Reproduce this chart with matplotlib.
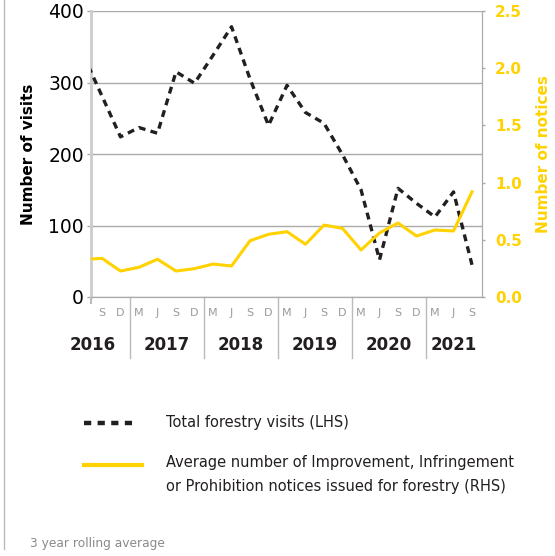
import numpy as np
import matplotlib
matplotlib.use('Agg')
import matplotlib.pyplot as plt
from matplotlib.lines import Line2D
from matplotlib.transforms import blended_transform_factory

# quarterly points, first one (J 2016) sits just left of the plot edge
quarters = ['J', 'S', 'D',
            'M', 'J', 'S', 'D',
            'M', 'J', 'S', 'D',
            'M', 'J', 'S', 'D',
            'M', 'J', 'S', 'D',
            'M', 'J', 'S']
years = [2016, 2016, 2016,
         2017, 2017, 2017, 2017,
         2018, 2018, 2018, 2018,
         2019, 2019, 2019, 2019,
         2020, 2020, 2020, 2020,
         2021, 2021, 2021]
visits = [338, 281, 224, 237, 229, 315, 299, 338, 378, 305, 240,
          296, 258, 243, 199, 150, 52, 152, 131, 112, 147, 45]
notices = [0.328, 0.338, 0.227, 0.26, 0.33, 0.227, 0.248, 0.288, 0.271, 0.492, 0.548,
           0.571, 0.461, 0.629, 0.6, 0.411, 0.56, 0.647, 0.533, 0.586, 0.577, 0.92]

yellow = '#FFD200'
dark = '#231F20'
grid_grey = '#AAAAAA'

plt.rcParams['font.family'] = 'DejaVu Sans'
plt.rcParams['lines.scale_dashes'] = False

fig = plt.figure(figsize=(5.55, 5.56), dpi=100)
W, H = 555, 556
ax = fig.add_axes([91 / W, 259 / H, 391 / W, 286 / H])
ax2 = ax.twinx()

x = np.arange(len(quarters))

ax.plot(x, visits, color=dark, lw=2.4, dashes=(5, 3.8), zorder=3)
ax2.plot(x, notices, color=yellow, lw=2.2, zorder=2)

ax.set_xlim(0.405, 21.54)
ax.set_ylim(0, 400)
ax2.set_ylim(0, 2.5)

# left axis
ax.set_yticks([0, 100, 200, 300, 400])
ax.tick_params(axis='y', labelsize=13.5, colors=grid_grey, labelcolor='black',
               length=3, width=1, pad=2)
ax.yaxis.grid(True, color=grid_grey, lw=1)
ax.set_axisbelow(True)
ax.set_ylabel('Number of visits', fontsize=11, fontweight='bold', labelpad=9)

# right axis
ax2.set_yticks([0, 0.5, 1.0, 1.5, 2.0, 2.5])
ax2.set_yticklabels(['0.0', '0.5', '1.0', '1.5', '2.0', '2.5'])
ax2.tick_params(axis='y', labelsize=11, colors=grid_grey, labelcolor=yellow,
                length=2.5, width=1, pad=7)
for lab in ax2.get_yticklabels():
    lab.set_fontweight('bold')
ax2.set_ylabel('Number of notices', fontsize=11, fontweight='bold', color=yellow,
               labelpad=10)

for a in (ax, ax2):
    a.spines['top'].set_visible(False)
    a.spines['bottom'].set_color(grid_grey)
    a.spines['right'].set_color(grid_grey)
    a.spines['left'].set_color('#CCCCCC')
ax.spines['left'].set_linewidth(2)
ax2.spines['left'].set_visible(False)

# quarter labels
ax.set_xticks(x[1:])
ax.set_xticklabels(quarters[1:])
ax.tick_params(axis='x', length=0, labelsize=8, labelcolor='#9A9A9A', pad=8)

# year separators and labels
trans = blended_transform_factory(ax.transData, ax.transAxes)
yrs = sorted(set(years))
for yr in yrs[1:]:
    idx = [i for i, v in enumerate(years) if v == yr]
    ax.add_line(Line2D([idx[0] - 0.5, idx[0] - 0.5], [0, -0.213], transform=trans,
                       color='#BBBBBB', lw=1, clip_on=False))
ax.add_line(Line2D([ax.get_xlim()[0]] * 2, [0, -0.02], transform=trans,
                   color='#BBBBBB', lw=1.5, clip_on=False))
for yr in yrs:
    idx = [i for i, v in enumerate(years) if v == yr]
    if yr == yrs[0]:
        # 2016 slot spans the whole year, M..D
        centre = (idx[-1] - 3 + idx[-1]) / 2
    else:
        centre = np.mean(idx)
    ax.text(centre, -0.168, str(yr), transform=trans, ha='center', va='center',
            fontsize=12, fontweight='bold', color=dark)

# legend drawn by hand, to keep the handle level with the first text line
def fy(py):
    return 1 - py / H

fig.add_artist(Line2D([84 / W, 137 / W], [fy(423), fy(423)], color=dark, lw=3.2,
                      dashes=(5.2, 4.6)))
fig.text(166 / W, fy(423), 'Total forestry visits (LHS)', fontsize=10.5,
         va='center', color=dark)
fig.add_artist(Line2D([84 / W, 142 / W], [fy(465), fy(465)], color=yellow, lw=3))
fig.text(166 / W, fy(463), 'Average number of Improvement, Infringement', fontsize=10.5,
         va='center', color=dark)
fig.text(166 / W, fy(487), 'or Prohibition notices issued for forestry (RHS)',
         fontsize=10.5, va='center', color=dark)

fig.text(30 / W, fy(543), '3 year rolling average', fontsize=8.8,
         va='center', color='#8A8A8A')

# thin frame line down the left
fig.add_artist(Line2D([4 / W, 4 / W], [fy(0), fy(549)], color='#BBBBBB', lw=1))

fig.savefig('out.png', dpi=100)
